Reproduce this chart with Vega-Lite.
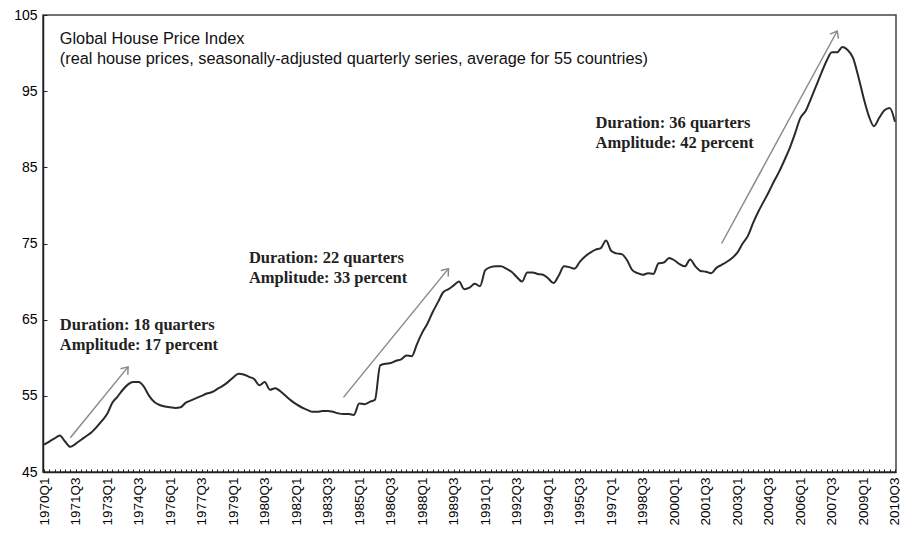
{
  "$schema": "https://vega.github.io/schema/vega-lite/v6.json",
  "width": 853,
  "height": 457,
  "autosize": "none",
  "padding": {"left": 43, "top": 15, "right": 4, "bottom": 62},
  "background": "white",
  "config": {
    "view": {"stroke": "#444", "strokeWidth": 1.5},
    "font": "Liberation Sans",
    "axis": {"grid": false, "domainColor": "#222", "domainWidth": 1.5, "tickColor": "#222", "labelColor": "#000", "labelFont": "Liberation Sans", "labelFontSize": 14, "title": null}
  },
  "datasets": {
    "hpi": [
      {"q":"1970Q1","v":48.6},{"q":"1970Q2","v":49.0},{"q":"1970Q3","v":49.4},{"q":"1970Q4","v":49.8},
      {"q":"1971Q1","v":49.0},{"q":"1971Q2","v":48.3},{"q":"1971Q3","v":48.7},{"q":"1971Q4","v":49.2},
      {"q":"1972Q1","v":49.7},{"q":"1972Q2","v":50.2},{"q":"1972Q3","v":50.9},{"q":"1972Q4","v":51.7},
      {"q":"1973Q1","v":52.6},{"q":"1973Q2","v":54.1},{"q":"1973Q3","v":54.9},{"q":"1973Q4","v":55.8},
      {"q":"1974Q1","v":56.5},{"q":"1974Q2","v":56.8},{"q":"1974Q3","v":56.8},{"q":"1974Q4","v":56.2},
      {"q":"1975Q1","v":55.0},{"q":"1975Q2","v":54.2},{"q":"1975Q3","v":53.8},{"q":"1975Q4","v":53.6},
      {"q":"1976Q1","v":53.5},{"q":"1976Q2","v":53.4},{"q":"1976Q3","v":53.5},{"q":"1976Q4","v":54.1},
      {"q":"1977Q1","v":54.4},{"q":"1977Q2","v":54.7},{"q":"1977Q3","v":55.0},{"q":"1977Q4","v":55.3},
      {"q":"1978Q1","v":55.5},{"q":"1978Q2","v":55.9},{"q":"1978Q3","v":56.3},{"q":"1978Q4","v":56.8},
      {"q":"1979Q1","v":57.4},{"q":"1979Q2","v":57.9},{"q":"1979Q3","v":57.8},{"q":"1979Q4","v":57.5},
      {"q":"1980Q1","v":57.2},{"q":"1980Q2","v":56.4},{"q":"1980Q3","v":56.8},{"q":"1980Q4","v":55.8},
      {"q":"1981Q1","v":56.0},{"q":"1981Q2","v":55.6},{"q":"1981Q3","v":55.0},{"q":"1981Q4","v":54.4},
      {"q":"1982Q1","v":53.9},{"q":"1982Q2","v":53.5},{"q":"1982Q3","v":53.2},{"q":"1982Q4","v":52.9},
      {"q":"1983Q1","v":52.9},{"q":"1983Q2","v":53.0},{"q":"1983Q3","v":53.0},{"q":"1983Q4","v":52.9},
      {"q":"1984Q1","v":52.7},{"q":"1984Q2","v":52.6},{"q":"1984Q3","v":52.6},{"q":"1984Q4","v":52.5},
      {"q":"1985Q1","v":54.0},{"q":"1985Q2","v":53.9},{"q":"1985Q3","v":54.2},{"q":"1985Q4","v":54.5},
      {"q":"1986Q1","v":59.0},{"q":"1986Q2","v":59.2},{"q":"1986Q3","v":59.3},{"q":"1986Q4","v":59.6},
      {"q":"1987Q1","v":59.8},{"q":"1987Q2","v":60.3},{"q":"1987Q3","v":60.2},{"q":"1987Q4","v":61.8},
      {"q":"1988Q1","v":63.3},{"q":"1988Q2","v":64.5},{"q":"1988Q3","v":66.0},{"q":"1988Q4","v":67.3},
      {"q":"1989Q1","v":68.6},{"q":"1989Q2","v":69.0},{"q":"1989Q3","v":69.5},{"q":"1989Q4","v":70.0},
      {"q":"1990Q1","v":69.0},{"q":"1990Q2","v":69.2},{"q":"1990Q3","v":69.7},{"q":"1990Q4","v":69.4},
      {"q":"1991Q1","v":71.5},{"q":"1991Q2","v":71.9},{"q":"1991Q3","v":72.0},{"q":"1991Q4","v":72.0},
      {"q":"1992Q1","v":71.7},{"q":"1992Q2","v":71.3},{"q":"1992Q3","v":70.6},{"q":"1992Q4","v":70.0},
      {"q":"1993Q1","v":71.2},{"q":"1993Q2","v":71.2},{"q":"1993Q3","v":71.0},{"q":"1993Q4","v":70.9},
      {"q":"1994Q1","v":70.4},{"q":"1994Q2","v":69.8},{"q":"1994Q3","v":70.8},{"q":"1994Q4","v":72.0},
      {"q":"1995Q1","v":71.9},{"q":"1995Q2","v":71.7},{"q":"1995Q3","v":72.6},{"q":"1995Q4","v":73.3},
      {"q":"1996Q1","v":73.8},{"q":"1996Q2","v":74.2},{"q":"1996Q3","v":74.4},{"q":"1996Q4","v":75.4},
      {"q":"1997Q1","v":74.0},{"q":"1997Q2","v":73.7},{"q":"1997Q3","v":73.6},{"q":"1997Q4","v":72.8},
      {"q":"1998Q1","v":71.5},{"q":"1998Q2","v":71.1},{"q":"1998Q3","v":70.9},{"q":"1998Q4","v":71.1},
      {"q":"1999Q1","v":71.0},{"q":"1999Q2","v":72.4},{"q":"1999Q3","v":72.5},{"q":"1999Q4","v":73.1},
      {"q":"2000Q1","v":72.8},{"q":"2000Q2","v":72.3},{"q":"2000Q3","v":72.0},{"q":"2000Q4","v":72.9},
      {"q":"2001Q1","v":72.0},{"q":"2001Q2","v":71.4},{"q":"2001Q3","v":71.3},{"q":"2001Q4","v":71.1},
      {"q":"2002Q1","v":71.8},{"q":"2002Q2","v":72.2},{"q":"2002Q3","v":72.6},{"q":"2002Q4","v":73.1},
      {"q":"2003Q1","v":73.8},{"q":"2003Q2","v":75.0},{"q":"2003Q3","v":76.0},{"q":"2003Q4","v":77.7},
      {"q":"2004Q1","v":79.2},{"q":"2004Q2","v":80.5},{"q":"2004Q3","v":81.8},{"q":"2004Q4","v":83.2},
      {"q":"2005Q1","v":84.5},{"q":"2005Q2","v":86.0},{"q":"2005Q3","v":87.6},{"q":"2005Q4","v":89.5},
      {"q":"2006Q1","v":91.5},{"q":"2006Q2","v":92.4},{"q":"2006Q3","v":94.0},{"q":"2006Q4","v":95.7},
      {"q":"2007Q1","v":97.4},{"q":"2007Q2","v":99.0},{"q":"2007Q3","v":100.1},{"q":"2007Q4","v":100.1},
      {"q":"2008Q1","v":100.8},{"q":"2008Q2","v":100.4},{"q":"2008Q3","v":99.4},{"q":"2008Q4","v":97.0},
      {"q":"2009Q1","v":94.2},{"q":"2009Q2","v":91.8},{"q":"2009Q3","v":90.4},{"q":"2009Q4","v":91.5},
      {"q":"2010Q1","v":92.5},{"q":"2010Q2","v":92.8},{"q":"2010Q3","v":91.0}
    ],
    "arrows": [
      {"id":1,"q1":"1971Q2","v1":49.5,"q2":"1974Q1","v2":58.8},
      {"id":2,"q1":"1984Q2","v1":54.8,"q2":"1989Q2","v2":71.7},
      {"id":3,"q1":"2002Q2","v1":75.0,"q2":"2007Q4","v2":102.9}
    ],
    "notes": [
      {"q":"1970Q4","v":63.7,"t":"Duration: 18 quarters\nAmplitude: 17 percent"},
      {"q":"1979Q4","v":72.5,"t":"Duration: 22 quarters\nAmplitude: 33 percent"},
      {"q":"1996Q2","v":90.1,"t":"Duration: 36 quarters\nAmplitude: 42 percent"}
    ],
    "heading": [
      {"q":"1970Q4","v":101.2,"t":"Global House Price Index\n(real house prices, seasonally-adjusted quarterly series, average for 55 countries)"}
    ]
  },
  "encoding": {
    "x": {"field":"q","type":"ordinal","scale":{"type":"point","padding":0.2},
      "axis":{"labelAngle":-90,"labelOverlap":false,"tickSize":-3,"labelPadding":8,"labelFontSize":13.5,"domainColor":"#222",
        "labelExpr":"((toNumber(substring(datum.value,0,4))-1970)*4 + toNumber(substring(datum.value,5,6)) - 1) % 6 == 0 ? datum.value : ''"}},
    "y": {"field":"v","type":"quantitative","scale":{"domain":[45,105],"nice":false,"zero":false},
      "axis":{"values":[45,55,65,75,85,95,105],"tickSize":-4,"labelPadding":10}}
  },
  "layer": [
    {"data":{"name":"hpi"},"mark":{"type":"line","color":"#2a2a2a","strokeWidth":2,"interpolate":"monotone"}},
    {"data":{"name":"arrows"},"mark":{"type":"rule","color":"#8a8a8a","strokeWidth":1.5},
      "encoding":{"x":{"field":"q1","type":"ordinal"},"x2":{"field":"q2"},"y":{"field":"v1","type":"quantitative"},"y2":{"field":"v2"}}},
    {"data":{"name":"arrows"},"transform":[{"filter":"datum.id == 1"}],
      "mark":{"type":"point","shape":"M-1,1.3L0,0L1,1.3","filled":false,"stroke":"#8a8a8a","strokeWidth":1.5,"size":90,"angle":39.3,"opacity":1},
      "encoding":{"x":{"field":"q2","type":"ordinal"},"y":{"field":"v2","type":"quantitative"}}},
    {"data":{"name":"arrows"},"transform":[{"filter":"datum.id == 2"}],
      "mark":{"type":"point","shape":"M-1,1.3L0,0L1,1.3","filled":false,"stroke":"#8a8a8a","strokeWidth":1.5,"size":90,"angle":39.3,"opacity":1},
      "encoding":{"x":{"field":"q2","type":"ordinal"},"y":{"field":"v2","type":"quantitative"}}},
    {"data":{"name":"arrows"},"transform":[{"filter":"datum.id == 3"}],
      "mark":{"type":"point","shape":"M-1,1.3L0,0L1,1.3","filled":false,"stroke":"#8a8a8a","strokeWidth":1.5,"size":90,"angle":28.6,"opacity":1},
      "encoding":{"x":{"field":"q2","type":"ordinal"},"y":{"field":"v2","type":"quantitative"}}},
    {"data":{"name":"notes"},"mark":{"type":"text","align":"left","baseline":"alphabetic","font":"Liberation Serif","fontWeight":"bold","fontSize":16.5,"lineHeight":20,"lineBreak":"\n","color":"#222"},
      "encoding":{"text":{"field":"t"}}},
    {"data":{"name":"heading"},"mark":{"type":"text","align":"left","baseline":"alphabetic","font":"Liberation Sans","fontSize":16.3,"lineHeight":20,"lineBreak":"\n","color":"#111"},
      "encoding":{"text":{"field":"t"}}}
  ]
}
